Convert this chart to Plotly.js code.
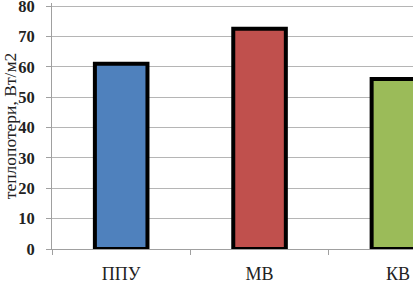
<!DOCTYPE html>
<html><head><meta charset="utf-8">
<script src="https://cdn.plot.ly/plotly-3.0.1.min.js"></script>
<style>html,body{margin:0;padding:0;background:#fff;}#chart{width:413px;height:284px;}</style>
</head><body><div id="chart"></div>
<script>
const categories = ["ППУ", "МВ", "КВ"];
const values = [61, 72.5, 56];
const barColors = ["#4f81bd", "#c0504d", "#9bbb59"];
const yTickVals = [0, 10, 20, 30, 40, 50, 60, 70, 80];
const yTitle = "теплопотери, Вт/м2";

const trace = {
  type: "bar",
  x: categories,
  y: values,
  width: 0.38,
  marker: { color: barColors, line: { color: "#000", width: 4 } },
  hoverinfo: "none"
};

const layout = {
  width: 413, height: 284,
  margin: { l: 52, r: 0, t: 3, b: 35 },
  paper_bgcolor: "#fff", plot_bgcolor: "#fff",
  showlegend: false,
  font: { family: "Liberation Serif, Times New Roman, serif", color: "#222", size: 16 },
  xaxis: {
    type: "category",
    range: [-0.5, 2.109],
    showgrid: false,
    showline: true, linecolor: "#a0a0a0", linewidth: 1,
    ticks: "outside", tickson: "boundaries", ticklen: 5, tickcolor: "#a0a0a0",
    ticklabelstandoff: 8,
    ticklabeloverflow: "allow",
    tickfont: { size: 18, color: "#222" },
    zeroline: false
  },
  yaxis: {
    range: [0, 81],
    tickvals: yTickVals,
    showgrid: true, gridcolor: "#b5b5b5", gridwidth: 1,
    showline: true, linecolor: "#a0a0a0", linewidth: 1,
    ticks: "outside", ticklen: 5, tickcolor: "#a0a0a0",
    ticklabelstandoff: 8,
    ticklabeloverflow: "allow",
    tickfont: { size: 16.5, color: "#222", weight: "bold" },
    zeroline: false,
    title: { text: yTitle, font: { size: 17.5, color: "#222" }, standoff: 2 }
  }
};

Plotly.newPlot("chart", [trace], layout, { displayModeBar: false, staticPlot: true });
</script></body></html>
